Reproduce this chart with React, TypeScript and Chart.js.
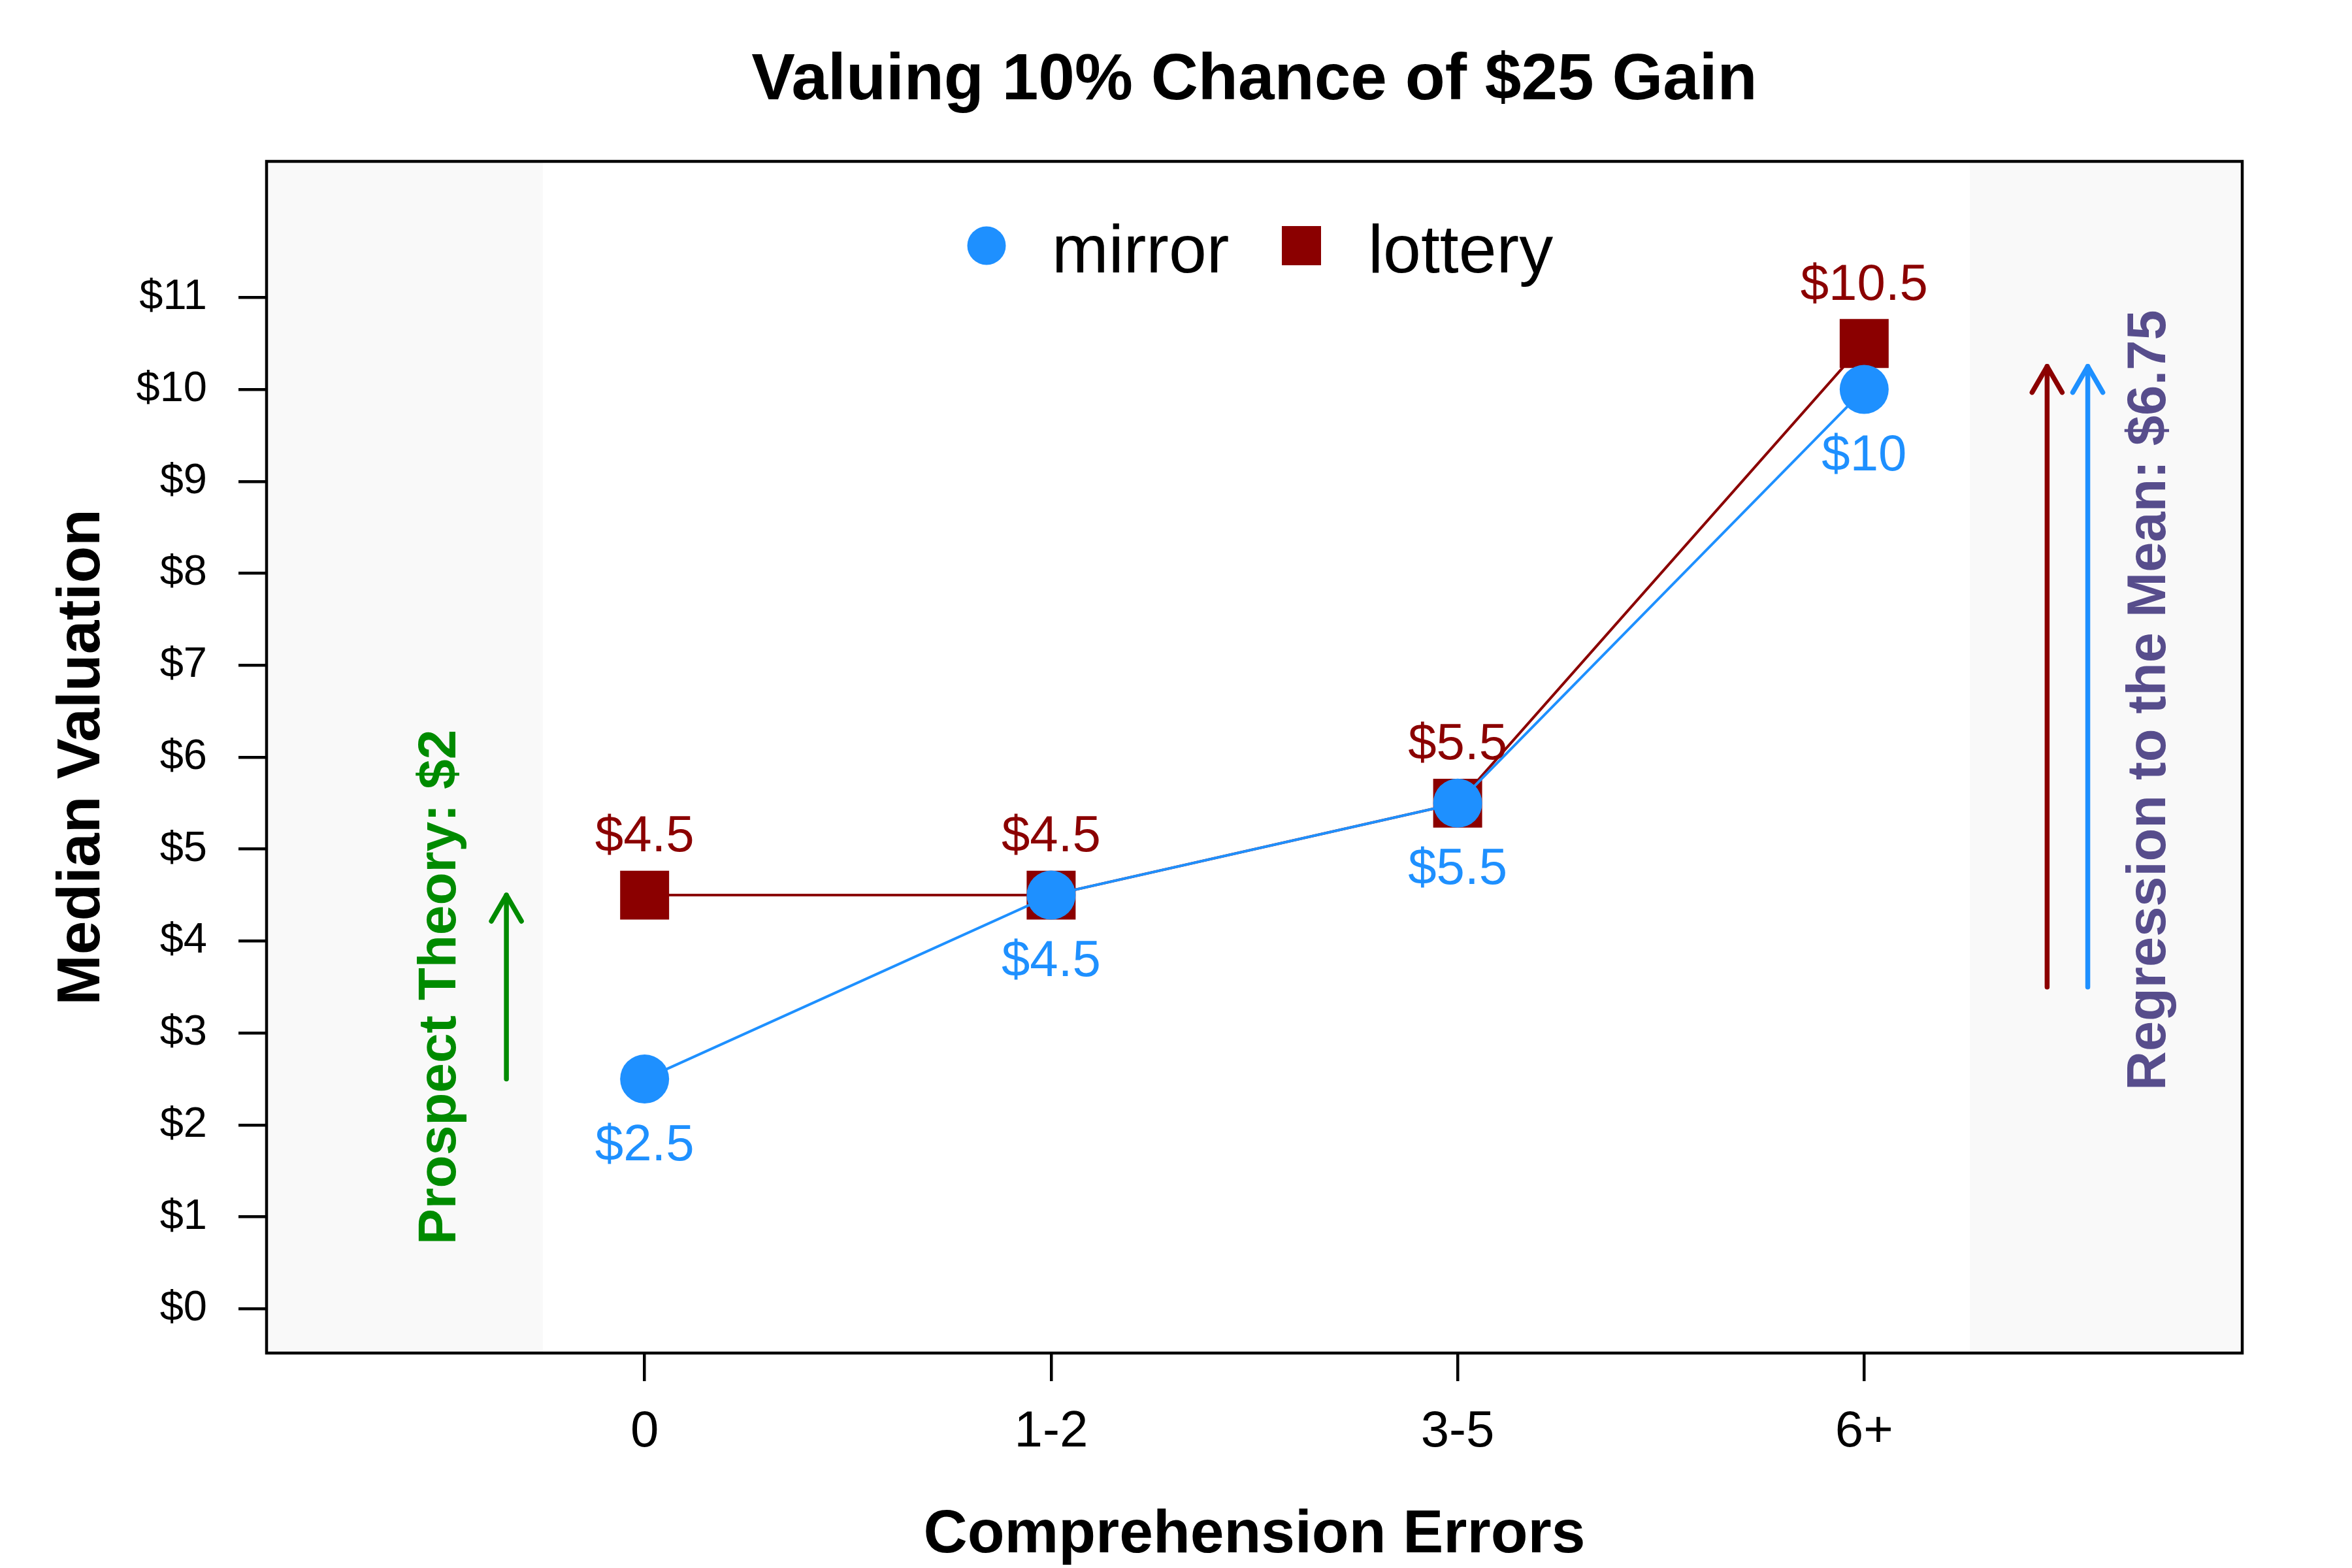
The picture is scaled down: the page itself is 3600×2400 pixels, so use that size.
import React, { useEffect, useRef } from "react";
import { Chart, registerables } from "chart.js";

Chart.register(...registerables);

// ---- data ----
const categories = ["0", "1-2", "3-5", "6+"];
const categoryPositions = [1, 2, 3, 4];
const seriesNames = ["mirror", "lottery"];
const mirrorValues = [2.5, 4.5, 5.5, 10];
const lotteryValues = [4.5, 4.5, 5.5, 10.5];
const yTickValues = [0, 1, 2, 3, 4, 5, 6, 7, 8, 9, 10, 11];
const xRange = [0.07, 4.93];
const yRange = [-0.48, 12.48];
const shadeLeft = [0.07, 0.75];
const shadeRight = [4.26, 4.93];
const prospectArrow = [0.66, 2.5, 4.5]; // x, from, to
const regressionArrowLottery = [4.45, 3.5, 10.25];
const regressionArrowMirror = [4.55, 3.5, 10.25];
const prospectText = "Prospect Theory: $2";
const prospectTextPos = [0.535, 3.5];
const regressionText = "Regression to the Mean: $6.75";
const regressionTextPos = [4.741, 6.62];

const TITLE = "Valuing 10% Chance of $25 Gain";
const X_TITLE = "Comprehension Errors";
const Y_TITLE = "Median Valuation";

const BLUE = "#1E90FF";
const DARKRED = "#8B0000";
const GREEN = "#008B00";
const SLATE = "#574D8C";
const SHADE = "#F9F9F9";
const FONT = '"Liberation Sans", Arial, Helvetica, sans-serif';

const fmt = (v: number) => "$" + v;

function drawArrow(ctx: CanvasRenderingContext2D, x: number, y0: number, y1: number, color: string) {
  ctx.save();
  ctx.strokeStyle = color;
  ctx.lineWidth = 7.5;
  ctx.lineCap = "round";
  ctx.lineJoin = "round";
  ctx.beginPath();
  ctx.moveTo(x, y0);
  ctx.lineTo(x, y1);
  ctx.stroke();
  const L = 46;
  const a = Math.PI / 6;
  ctx.beginPath();
  ctx.moveTo(x - L * Math.sin(a), y1 + L * Math.cos(a));
  ctx.lineTo(x, y1);
  ctx.lineTo(x + L * Math.sin(a), y1 + L * Math.cos(a));
  ctx.stroke();
  ctx.restore();
}

function drawRotated(ctx: CanvasRenderingContext2D, text: string, bx: number, cy: number, font: string, color: string) {
  ctx.save();
  ctx.translate(bx, cy);
  ctx.rotate(-Math.PI / 2);
  ctx.font = font;
  ctx.fillStyle = color;
  ctx.textAlign = "center";
  ctx.textBaseline = "alphabetic";
  ctx.fillText(text, 0, 0);
  ctx.restore();
}

const decorPlugin = {
  id: "decor",
  beforeDraw(chart: any) {
    const ctx = chart.ctx as CanvasRenderingContext2D;
    const { left, right, top, bottom } = chart.chartArea;
    const xs = chart.scales.x;
    ctx.save();
    ctx.fillStyle = "#ffffff";
    ctx.fillRect(0, 0, chart.width, chart.height);
    ctx.fillStyle = SHADE;
    const l1 = xs.getPixelForValue(shadeLeft[1]);
    ctx.fillRect(left, top, l1 - left, bottom - top);
    const r0 = xs.getPixelForValue(shadeRight[0]);
    ctx.fillRect(r0, top, right - r0, bottom - top);
    ctx.restore();
  },
  afterDatasetsDraw(chart: any) {
    const ctx = chart.ctx as CanvasRenderingContext2D;
    const xs = chart.scales.x;
    const ys = chart.scales.y;

    // value labels
    ctx.save();
    ctx.font = `78px ${FONT}`;
    ctx.textAlign = "center";
    ctx.textBaseline = "alphabetic";
    const mirrorMeta = chart.getDatasetMeta(0);
    const lotteryMeta = chart.getDatasetMeta(1);
    ctx.fillStyle = DARKRED;
    lotteryMeta.data.forEach((pt: any, i: number) => {
      ctx.fillText(fmt(lotteryValues[i]), pt.x, pt.y - 67);
    });
    ctx.fillStyle = BLUE;
    mirrorMeta.data.forEach((pt: any, i: number) => {
      ctx.fillText(fmt(mirrorValues[i]), pt.x, pt.y + 124);
    });
    ctx.restore();

    // arrows
    drawArrow(ctx, xs.getPixelForValue(prospectArrow[0]), ys.getPixelForValue(prospectArrow[1]), ys.getPixelForValue(prospectArrow[2]), GREEN);
    drawArrow(ctx, xs.getPixelForValue(regressionArrowLottery[0]), ys.getPixelForValue(regressionArrowLottery[1]), ys.getPixelForValue(regressionArrowLottery[2]), DARKRED);
    drawArrow(ctx, xs.getPixelForValue(regressionArrowMirror[0]), ys.getPixelForValue(regressionArrowMirror[1]), ys.getPixelForValue(regressionArrowMirror[2]), BLUE);

    drawRotated(ctx, prospectText, xs.getPixelForValue(prospectTextPos[0]), ys.getPixelForValue(prospectTextPos[1]), `bold 82px ${FONT}`, GREEN);
    drawRotated(ctx, regressionText, xs.getPixelForValue(regressionTextPos[0]), ys.getPixelForValue(regressionTextPos[1]), `bold 83px ${FONT}`, SLATE);

    // legend
    ctx.save();
    ctx.fillStyle = BLUE;
    ctx.beginPath();
    ctx.arc(1510, 376, 29.5, 0, Math.PI * 2);
    ctx.fill();
    ctx.fillStyle = DARKRED;
    ctx.fillRect(1962, 346, 60, 60);
    ctx.fillStyle = "#000";
    ctx.font = `104px ${FONT}`;
    ctx.textAlign = "left";
    ctx.textBaseline = "alphabetic";
    ctx.fillText(seriesNames[0], 1610, 417);
    ctx.fillText(seriesNames[1], 2094, 417);
    ctx.restore();
  },
  afterDraw(chart: any) {
    const ctx = chart.ctx as CanvasRenderingContext2D;
    const { left, right, top, bottom } = chart.chartArea;
    ctx.save();
    ctx.strokeStyle = "#000";
    ctx.lineWidth = 4.5;
    ctx.strokeRect(left, top, right - left, bottom - top);
    ctx.fillStyle = "#000";
    ctx.textAlign = "center";
    ctx.textBaseline = "alphabetic";
    const cx = (left + right) / 2;
    ctx.font = `bold 100px ${FONT}`;
    ctx.fillText(TITLE, cx, 152);
    ctx.font = `bold 93px ${FONT}`;
    ctx.fillText(X_TITLE, cx, 2376);
    ctx.restore();
    drawRotated(ctx, Y_TITLE, 152, (top + bottom) / 2, `bold 93px ${FONT}`, "#000");
  },
};

export default function App() {
  const ref = useRef<HTMLCanvasElement | null>(null);
  useEffect(() => {
    if (!ref.current) return;
    const chart = new Chart(ref.current, {
      type: "line",
      data: {
        datasets: [
          {
            label: seriesNames[0],
            data: categoryPositions.map((x, i) => ({ x, y: mirrorValues[i] })),
            borderColor: BLUE,
            backgroundColor: BLUE,
            borderWidth: 4,
            pointStyle: "circle",
            pointRadius: 37.5,
            pointBorderWidth: 0,
            pointBackgroundColor: BLUE,
            tension: 0,
          },
          {
            label: seriesNames[1],
            data: categoryPositions.map((x, i) => ({ x, y: lotteryValues[i] })),
            borderColor: DARKRED,
            backgroundColor: DARKRED,
            borderWidth: 4,
            pointStyle: "rect",
            pointRadius: 53,
            pointBorderWidth: 0,
            pointBackgroundColor: DARKRED,
            tension: 0,
          },
        ],
      },
      options: {
        animation: false,
        responsive: false,
        devicePixelRatio: 1,
        events: [],
        layout: { autoPadding: false, padding: { left: 0, top: 247, right: 168, bottom: 0 } },
        plugins: {
          legend: { display: false },
          title: { display: false },
          tooltip: { enabled: false },
        },
        scales: {
          x: {
            type: "linear",
            min: xRange[0],
            max: xRange[1],
            afterFit: (s: any) => {
              s.height = 329;
            },
            afterBuildTicks: (s: any) => {
              s.ticks = categoryPositions.map((v) => ({ value: v }));
            },
            border: { display: false },
            grid: {
              drawOnChartArea: false,
              drawTicks: true,
              tickLength: 43,
              tickWidth: 4.5,
              tickColor: "#000",
              color: "#000",
              lineWidth: 4.5,
            },
            ticks: {
              autoSkip: false,
              maxRotation: 0,
              padding: 32,
              color: "#000",
              font: { family: FONT, size: 78 },
              callback: (v: any) => categories[categoryPositions.indexOf(Number(v))] ?? "",
            },
          },
          y: {
            type: "linear",
            min: yRange[0],
            max: yRange[1],
            afterFit: (s: any) => {
              s.width = 408;
            },
            afterBuildTicks: (s: any) => {
              s.ticks = yTickValues.map((v) => ({ value: v }));
            },
            border: { display: false },
            grid: {
              drawOnChartArea: false,
              drawTicks: true,
              tickLength: 43,
              tickWidth: 4.5,
              tickColor: "#000",
              color: "#000",
              lineWidth: 4.5,
            },
            ticks: {
              autoSkip: false,
              padding: 48,
              color: "#000",
              font: { family: FONT, size: 65 },
              callback: (v: any) => fmt(Number(v)),
            },
          },
        },
      },
      plugins: [decorPlugin],
    } as any);
    return () => chart.destroy();
  }, []);
  return (
    <div style={{ position: "fixed", left: 0, top: 0, width: 3600, height: 2400, background: "#fff" }}>
      <canvas ref={ref} width={3600} height={2400} style={{ display: "block", width: 3600, height: 2400 }} />
    </div>
  );
}
